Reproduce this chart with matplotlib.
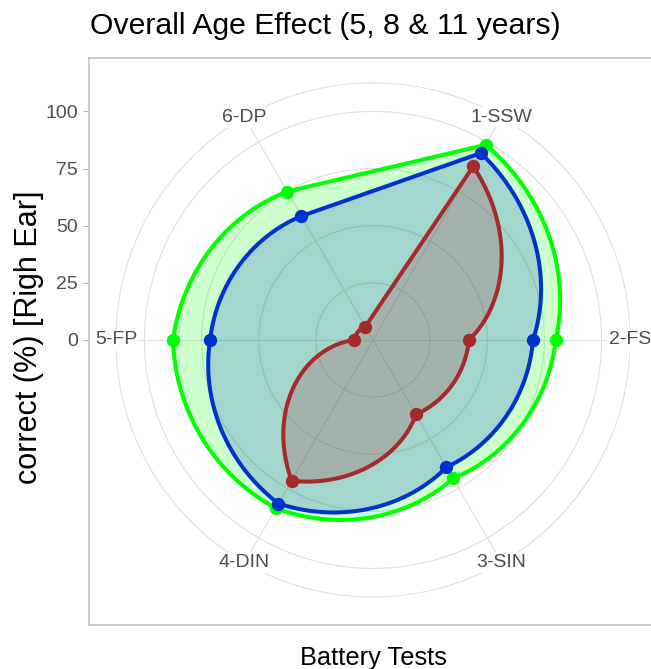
import numpy as np
import matplotlib.pyplot as plt

tests = ["1-SSW", "2-FS", "3-SIN", "4-DIN", "5-FP", "6-DP"]
age_11 = [98.6, 80.0, 70.0, 85.0, 87.5, 75.0]
age_8 = [94.4, 70.0, 64.3, 82.7, 71.3, 62.6]
age_5 = [87.7, 42.0, 37.6, 71.2, 8.2, 6.7]
r_ticks = [0, 25, 50, 75, 100]
r_label = 112.5


def munch(vals, n=60):
    # straight segments in (test, value) space, bent by the polar transform
    pos = np.arange(1, len(vals) + 1)
    xs = np.linspace(1, len(vals), n * (len(vals) - 1) + 1)
    return xs, np.interp(xs, pos, vals)


def to_xy(x, r):
    th = (np.asarray(x) - 0.5) / len(tests) * 2 * np.pi
    return r * np.sin(th), r * np.cos(th)


def main():
    plt.rcParams["font.family"] = ["Liberation Sans", "DejaVu Sans"]
    fig = plt.figure(figsize=(6.51, 6.69), dpi=100)
    ax = fig.add_axes([88.7 / 651, 44.3 / 669, 568.6 / 651, 567 / 669])
    ax.set_xlim(-124.4, 124.4)
    ax.set_ylim(-124.6, 123.5)

    grid_c = "#DEDEDE"
    th = np.linspace(0, 2 * np.pi, 361)
    for r in r_ticks[1:] + [r_label]:
        ax.plot(r * np.sin(th), r * np.cos(th), color=grid_c, lw=0.8, zorder=1)
    for i in range(len(tests)):
        x, y = to_xy(i + 1, r_label)
        ax.plot([0, x], [0, y], color=grid_c, lw=0.8, zorder=1)
        ax.text(x, y, tests[i], ha="center", va="center", fontsize=14,
                color="#4D4D4D", zorder=2,
                bbox=dict(facecolor="white", edgecolor="none", pad=1.5))

    series = [(age_11, "#00FF00"), (age_8, "#0033CC"), (age_5, "#A52A2A")]
    z = 3
    for vals, col in series:
        sx, sr = munch(vals)
        px, py = to_xy(sx, sr)
        px = np.append(px, px[0])
        py = np.append(py, py[0])
        ax.fill(px, py, color=col, alpha=0.2, lw=0, zorder=z)
        ax.plot(px, py, color=col, lw=2.9, zorder=z + 0.1, solid_joinstyle="round")
        dx, dy = to_xy(np.arange(1, len(tests) + 1), np.array(vals))
        ax.plot(dx, dy, "o", color=col, ms=8.6, zorder=z + 0.2)
        z += 1

    ax.set_yticks(r_ticks)
    ax.set_yticklabels([str(v) for v in r_ticks])
    ax.set_xticks([])
    ax.tick_params(axis="y", length=4.3, width=0.8, color="#B3B3B3",
                   labelcolor="#4D4D4D", labelsize=14, pad=3.5)
    for s in ax.spines.values():
        s.set_color("#C4C4C4")
        s.set_linewidth(1.2)

    fig.text(90 / 651, 1 - 34 / 669, "Overall Age Effect (5, 8 & 11 years)",
             fontsize=21.8, ha="left", va="baseline")
    fig.text(373 / 651, 4 / 669, "Battery Tests", fontsize=18.3,
             ha="center", va="baseline")
    fig.text(29 / 651, 1 - 337 / 669, "correct (%) [Righ Ear]", fontsize=22,
             ha="center", va="center", rotation=90)

    plt.savefig("out.png", dpi=100)


if __name__ == "__main__":
    main()
